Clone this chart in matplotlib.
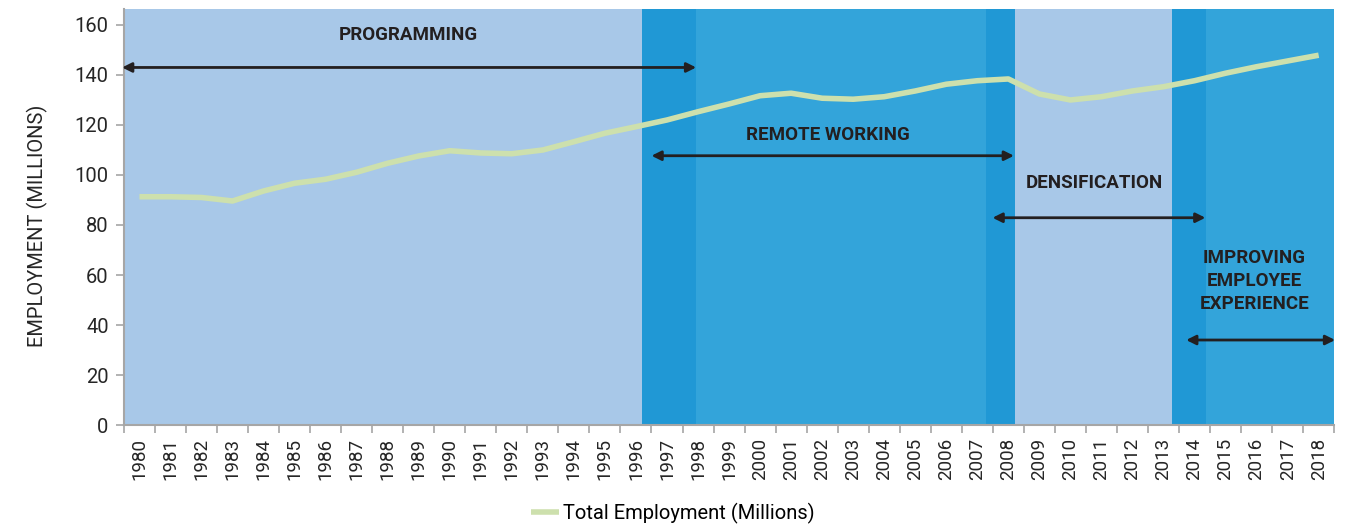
import matplotlib.pyplot as plt
import numpy as np

plt.rcParams['font.family'] = ['Roboto', 'DejaVu Sans']

# -----------------------------
# Data
# -----------------------------
years = [str(y) for y in range(1980, 2019)]
employment = [91.3, 91.3, 91.0, 89.6, 93.6, 96.7, 98.3, 101.1, 104.7, 107.6,
              109.7, 108.8, 108.5, 110.0, 113.3, 116.7, 119.3, 122.0, 125.3, 128.4,
              131.7, 132.7, 130.7, 130.3, 131.3, 133.6, 136.3, 137.7, 138.4, 132.4,
              130.0, 131.3, 133.6, 135.3, 137.7, 140.7, 143.3, 145.6, 147.9]

# background bands (category units) and their colours
band_edges = [-0.5, 16.21, 17.95, 27.27, 28.21, 33.27, 34.37, 38.5]
band_colors = ['#a8c8e8', '#2098d5', '#33a4da', '#2098d5', '#a8c8e8', '#2098d5', '#33a4da']

# phase labels: text, text x, text y, arrow start, arrow end, arrow y
phases = [
    ("PROGRAMMING", 8.68, 156, -0.56, 17.94, 143),
    ("REMOTE WORKING", 22.17, 116, 16.5, 28.18, 107.7),
    ("DENSIFICATION", 30.78, 96.7, 27.49, 34.35, 82.9),
    ("IMPROVING\nEMPLOYEE\nEXPERIENCE", 35.93, 57.7, 33.73, 38.53, 34),
]

# -----------------------------
# Plot
# -----------------------------
fig = plt.figure(figsize=(13.53, 5.27), dpi=100)
ax = fig.add_axes([0.0916, 0.1935, 0.8945, 0.7895])

x = np.arange(len(years))
for i in range(len(band_colors)):
    ax.axvspan(band_edges[i], band_edges[i + 1], color=band_colors[i], lw=0, zorder=0)

ax.plot(x, employment, color='#cde0ad', lw=4, solid_joinstyle='round',
        solid_capstyle='butt', label='Total Employment (Millions)', zorder=3)

for label, tx, ty, x0, x1, ay in phases:
    ax.text(tx, ty, label, ha='center', va='center', fontsize=13.5,
            fontweight='bold', color='#231f20', linespacing=1.35, zorder=5)
    ax.annotate('', xy=(x1, ay), xytext=(x0, ay),
                arrowprops=dict(arrowstyle='<|-|>', color='#231f20', lw=2,
                                mutation_scale=14, shrinkA=0, shrinkB=0),
                annotation_clip=False, zorder=5)

ax.set_xlim(-0.5, len(years) - 0.5)
ax.set_ylim(0, 166.4)
ax.set_yticks(range(0, 161, 20))
ax.set_xticks(x)
ax.set_xticklabels(years, rotation=90, fontsize=13.5, color='#262626')
ax.set_xticks(np.arange(-0.5, len(years), 1), minor=True)
ax.tick_params(axis='x', which='major', length=0, pad=9)
ax.tick_params(axis='x', which='minor', length=6, color='#a6a6a6', width=1.2)
ax.tick_params(axis='y', labelsize=14.5, labelcolor='#262626', length=6,
               color='#a6a6a6', width=1.2, pad=5)

for side in ['top', 'right']:
    ax.spines[side].set_visible(False)
for side in ['left', 'bottom']:
    ax.spines[side].set_color('#a6a6a6')
    ax.spines[side].set_linewidth(1.5)

ax.set_ylabel("EMPLOYMENT (MILLIONS)", fontsize=14.5, color='#262626')
ax.yaxis.set_label_coords(-0.0629, 0.48)

fig.legend(loc='center', bbox_to_anchor=(0.497, 0.0266), frameon=False,
           fontsize=14.5, handlelength=1.4, handletextpad=0.2)

plt.savefig("out.png", dpi=100)
